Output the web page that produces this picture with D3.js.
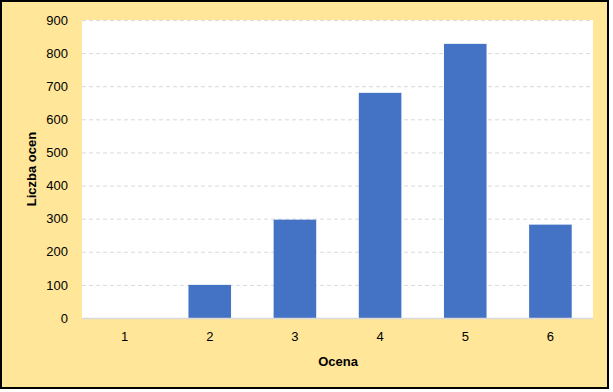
<!DOCTYPE html>
<html><head><meta charset="utf-8">
<script src="https://cdn.jsdelivr.net/npm/d3@7"></script>
<style>body{margin:0;background:#fff}svg{display:block}</style>
</head><body>
<script>
const categories = ["1","2","3","4","5","6"];
const values = [0, 100, 297, 680, 828, 282];
const yTicks = [0,100,200,300,400,500,600,700,800,900];
const W = 613, H = 392;
const m = {left: 82, right: 593, top: 20, bottom: 318};
const svg = d3.select("body").append("svg").attr("width", W).attr("height", H);
svg.append("rect").attr("x",1).attr("y",1).attr("width",607).attr("height",387)
  .attr("fill","#FFE699").attr("stroke","#000").attr("stroke-width",2);
svg.append("rect").attr("x",m.left).attr("y",m.top).attr("width",m.right-m.left).attr("height",m.bottom-m.top).attr("fill","#fff");
const x = d3.scaleBand().domain(categories).range([m.left,m.right]).paddingInner(0.5).paddingOuter(0.25);
const y = d3.scaleLinear().domain([0,900]).range([m.bottom,m.top]);
const font = "Liberation Sans, Arial, sans-serif";
svg.append("g").selectAll("line").data(yTicks.filter(d=>d>0)).join("line")
  .attr("x1",m.left).attr("x2",m.right).attr("y1",d=>y(d)+0.5).attr("y2",d=>y(d)+0.5)
  .attr("stroke","#D9D9D9").attr("stroke-dasharray","4,3");
svg.append("g").selectAll("rect").data(values).join("rect")
  .attr("x",(d,i)=>x(categories[i])).attr("width",x.bandwidth())
  .attr("y",d=>y(d)).attr("height",d=>y(0)-y(d)).attr("fill","#4472C4");
svg.append("line").attr("x1",m.left).attr("x2",m.right).attr("y1",m.bottom+0.5).attr("y2",m.bottom+0.5)
  .attr("stroke","#D9D9D9").attr("stroke-width",1.5);
const ya = svg.append("g").attr("transform",`translate(${m.left},0)`)
  .call(d3.axisLeft(y).tickValues(yTicks).tickSize(0).tickPadding(14));
ya.select(".domain").remove();
ya.selectAll("text").attr("font-family",font).attr("font-size",13).attr("fill","#000");
const xa = svg.append("g").attr("transform",`translate(0,${m.bottom})`)
  .call(d3.axisBottom(x).tickSize(0).tickPadding(14));
xa.select(".domain").remove();
xa.selectAll("text").attr("font-family",font).attr("font-size",13).attr("fill","#000");
svg.append("text").attr("x",338).attr("y",366).attr("text-anchor","middle")
  .attr("font-family",font).attr("font-size",13).attr("font-weight","bold").text("Ocena");
svg.append("text").attr("transform","translate(36,169) rotate(-90)").attr("text-anchor","middle")
  .attr("font-family",font).attr("font-size",13).attr("font-weight","bold").text("Liczba ocen");
</script>
</body></html>
